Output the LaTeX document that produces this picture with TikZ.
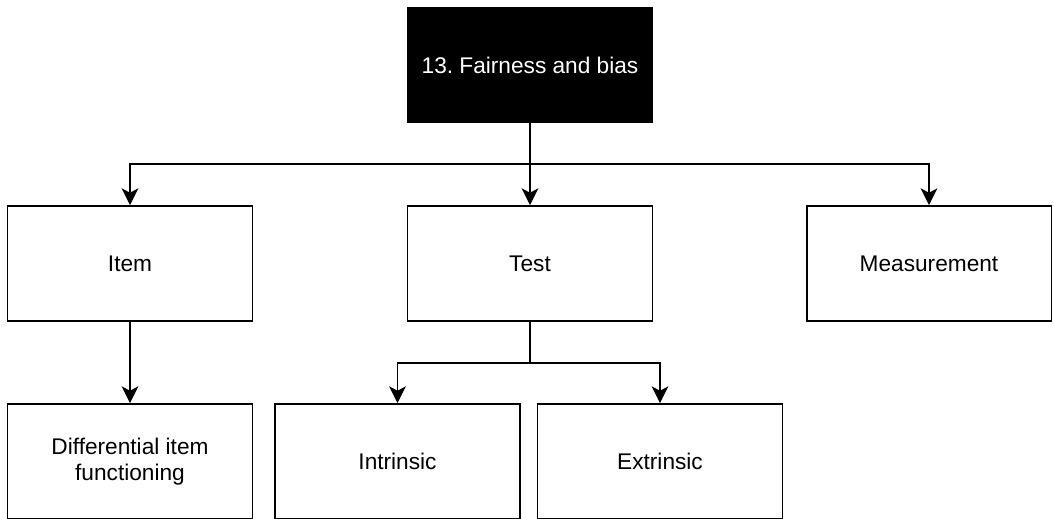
\documentclass[tikz,border=0pt]{standalone}
\usepackage{fontspec}
\setmainfont{Liberation Sans}
\usetikzlibrary{arrows.meta}
\frenchspacing
\tikzset{
  box/.style={draw=black,line width=1.1pt,minimum width=4.9cm,minimum height=2.3cm,align=center,font=\fontsize{12.9}{14.4}\selectfont,inner sep=0pt},
  topbox/.style={box,fill=black,text=white},
  arr/.style={line width=1.1pt,-{Stealth[length=9.5pt,width=9.5pt,inset=2.5pt]}},
  ln/.style={line width=1.1pt}
}
\begin{document}
\begin{tikzpicture}[x=0.02cm,y=-0.02cm]
\useasboundingbox (0,0) rectangle (1054,519);
\node[topbox] (fair) at (530,65) {13. Fairness and bias};
\node[box] (item) at (130,263.5) {Item};
\node[box] (test) at (530,263.5) {Test};
\node[box] (meas) at (929,263.5) {Measurement};
\node[box] (dif) at (130,461.5) {Differential item\\functioning};
\node[box] (intr) at (397.5,461.5) {Intrinsic};
\node[box] (extr) at (660,461.5) {Extrinsic};
% first level
\coordinate (split) at (530,164);
\draw[ln] (fair) -- (split);
\draw[arr] (split) -| (item);
\draw[arr] (split) -- (test);
\draw[arr] (split) -| (meas);
% second level
\draw[arr] (item) -- (dif);
\coordinate (tsplit) at (530,363);
\draw[ln] (test) -- (tsplit);
\draw[arr] (tsplit) -| (intr);
\draw[arr] (tsplit) -| (extr);
\end{tikzpicture}
\end{document}
